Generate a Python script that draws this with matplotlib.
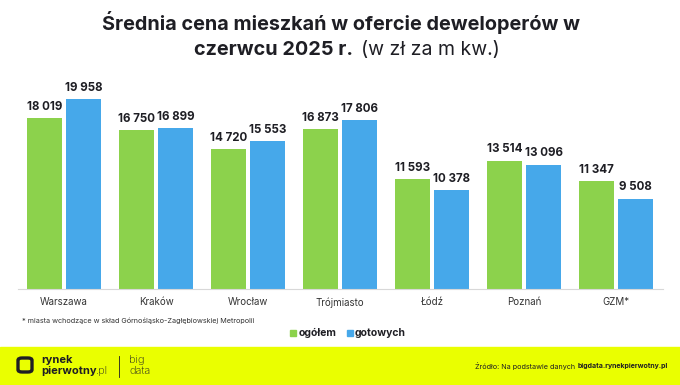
import matplotlib.pyplot as plt
from matplotlib.patches import Rectangle, FancyBboxPatch
import numpy as np

plt.rcParams['font.family'] = ['Inter', 'DejaVu Sans']

cities = ['Warszawa', 'Kraków', 'Wrocław', 'Trójmiasto', 'Łódź', 'Poznań', 'GZM*']
ogolem = [18019, 16750, 14720, 16873, 11593, 13514, 11347]
gotowych = [19958, 16899, 15553, 17806, 10378, 13096, 9508]

green = '#8cd24c'
blue = '#46a8ea'
dark = '#1e1e24'


def fmt(v):
    return f'{v:,}'.replace(',', ' ')


def fx(px):
    return px / 680


def fy(py):
    return 1 - py / 385


fig = plt.figure(figsize=(6.8, 3.85), dpi=100)
ax = fig.add_axes([fx(18), fy(289), 645 / 680, 208 / 385])

x = np.arange(len(cities))
w = 0.38
off = 0.212
b1 = ax.bar(x - off, ogolem, w, color=green)
b2 = ax.bar(x + off, gotowych, w, color=blue)

for bars, vals in ((b1, ogolem), (b2, gotowych)):
    for b, v in zip(bars, vals):
        ax.text(b.get_x() + b.get_width() / 2, v + 550, fmt(v), ha='center', va='bottom',
                fontsize=8.3, fontweight='bold', color=dark)

ax.set_xlim(-0.5, len(cities) - 0.5 + 0.01)
ax.set_ylim(0, 21900)
ax.set_xticks(x)
ax.set_xticklabels(cities, fontsize=7, color='#333333')
ax.tick_params(axis='x', length=0, pad=6)
ax.set_yticks([])
for s in ['top', 'right', 'left']:
    ax.spines[s].set_visible(False)
ax.spines['bottom'].set_color('#d8d8d8')
ax.spines['bottom'].set_linewidth(0.8)

# title
fig.text(fx(341), fy(22), 'Średnia cena mieszkań w ofercie deweloperów w', ha='center', va='center',
         fontsize=14.3, fontweight='bold', color=dark)
fig.text(fx(353), fy(50), 'czerwcu 2025 r.', ha='right', va='center',
         fontsize=14.3, fontweight='bold', color=dark)
fig.text(fx(361), fy(50), '(w zł za m kw.)', ha='left', va='center',
         fontsize=14, color=dark)

# footnote
fig.text(fx(22), fy(321), '* miasta wchodzące w skład Górnośląsko-Zagłębiowskiej Metropolii',
         ha='left', va='center', fontsize=5.2, color='#333333')

# legend
fig.patches.append(Rectangle((fx(290), fy(336)), fx(6), 6 / 385,
                             transform=fig.transFigure, color=green))
fig.text(fx(299), fy(333), 'ogółem', ha='left', va='center', fontsize=7.5,
         fontweight='bold', color=dark)
fig.patches.append(Rectangle((fx(347), fy(336)), fx(6), 6 / 385,
                             transform=fig.transFigure, color=blue))
fig.text(fx(355), fy(333), 'gotowych', ha='left', va='center', fontsize=7.5,
         fontweight='bold', color=dark)

# footer band
fig.patches.append(Rectangle((0, 0), 1, 38 / 385, transform=fig.transFigure,
                             color='#eaff00', zorder=0))
fig.patches.append(FancyBboxPatch((fx(18), fy(372)), fx(14), 14 / 385,
                                  boxstyle='round,pad=0,rounding_size=0.006',
                                  transform=fig.transFigure, fill=False,
                                  ec=dark, lw=2.4))
fig.text(fx(41), fy(360), 'rynek', ha='left', va='center', fontsize=8,
         fontweight='bold', color=dark)
fig.text(fx(41), fy(371), 'pierwotny', ha='left', va='center', fontsize=8,
         fontweight='bold', color=dark)
fig.text(fx(95.5), fy(371), '.pl', ha='left', va='center', fontsize=8,
         fontweight='light', color=dark)
fig.add_artist(plt.Line2D([fx(119), fx(119)], [fy(356), fy(377)],
                          color=dark, lw=0.6, transform=fig.transFigure))
fig.text(fx(129), fy(360), 'big', ha='left', va='center', fontsize=8,
         fontweight='light', color=dark)
fig.text(fx(129), fy(371), 'data', ha='left', va='center', fontsize=8,
         fontweight='light', color=dark)

fig.text(fx(577), fy(366), 'Źródło: Na podstawie danych ', ha='right', va='center',
         fontsize=5.2, color=dark)
fig.text(fx(578), fy(366), 'bigdata.rynekpierwotny.pl', ha='left', va='center',
         fontsize=5.0, fontweight='bold', color=dark)

fig.savefig('out.png', dpi=100)
